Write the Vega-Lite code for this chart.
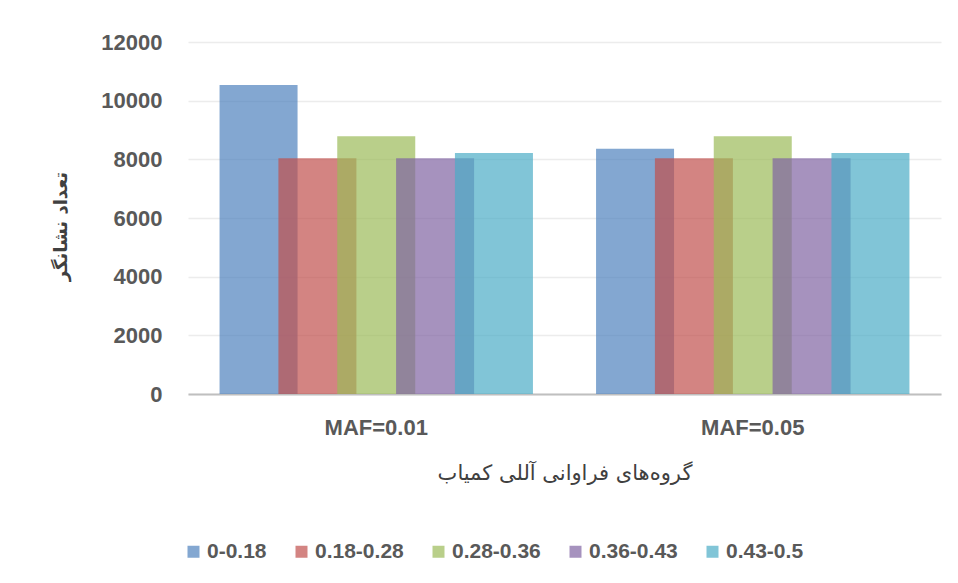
{
  "$schema": "https://vega.github.io/schema/vega-lite/v6.json",
  "width": 753,
  "height": 352,
  "autosize": {"type": "none"},
  "padding": {"left": 188, "top": 42, "right": 17, "bottom": 189},
  "background": "white",
  "title": {
    "text": "ج",
    "anchor": "end",
    "frame": "group",
    "font": "DejaVu Sans",
    "fontSize": 30,
    "fontWeight": "normal",
    "color": "#000000",
    "baseline": "alphabetic",
    "offset": 40,
    "dx": -28
  },
  "data": {
    "values": [
      {"maf": "MAF=0.01", "grp": "0-0.18", "count": 10530},
      {"maf": "MAF=0.01", "grp": "0.18-0.28", "count": 8040},
      {"maf": "MAF=0.01", "grp": "0.28-0.36", "count": 8790},
      {"maf": "MAF=0.01", "grp": "0.36-0.43", "count": 8040},
      {"maf": "MAF=0.01", "grp": "0.43-0.5", "count": 8220},
      {"maf": "MAF=0.05", "grp": "0-0.18", "count": 8360},
      {"maf": "MAF=0.05", "grp": "0.18-0.28", "count": 8040},
      {"maf": "MAF=0.05", "grp": "0.28-0.36", "count": 8790},
      {"maf": "MAF=0.05", "grp": "0.36-0.43", "count": 8040},
      {"maf": "MAF=0.05", "grp": "0.43-0.5", "count": 8220}
    ]
  },
  "mark": {"type": "bar", "width": 78, "opacity": 0.7},
  "encoding": {
    "x": {
      "field": "maf",
      "type": "nominal",
      "scale": {"paddingInner": 0, "paddingOuter": 0},
      "axis": {
        "title": "گروه‌های فراوانی آللی کمیاب",
        "labelAngle": 0,
        "labelFont": "Liberation Sans",
        "labelFontWeight": "bold",
        "labelFontSize": 22,
        "labelColor": "#595959",
        "labelPadding": 23,
        "ticks": false,
        "tickSize": 0,
        "domainColor": "#bfbfbf",
        "domainWidth": 2,
        "titleFont": "DejaVu Sans",
        "titleFontSize": 21,
        "titleFontWeight": "normal",
        "titleColor": "#404040",
        "titleBaseline": "alphabetic",
        "titleY": 85
      }
    },
    "xOffset": {
      "field": "grp",
      "type": "nominal",
      "sort": ["0-0.18", "0.18-0.28", "0.28-0.36", "0.36-0.43", "0.43-0.5"],
      "scale": {"paddingInner": 0, "paddingOuter": 0.699}
    },
    "y": {
      "field": "count",
      "type": "quantitative",
      "scale": {"domain": [0, 12000], "nice": false},
      "axis": {
        "title": "تعداد نشانگر",
        "values": [0, 2000, 4000, 6000, 8000, 10000, 12000],
        "format": "d",
        "domain": false,
        "ticks": false,
        "tickSize": 0,
        "labelPadding": 26,
        "labelFont": "Liberation Sans",
        "labelFontWeight": "bold",
        "labelFontSize": 22,
        "labelColor": "#595959",
        "gridColor": "#ececec",
        "gridWidth": 1.5,
        "titleFont": "DejaVu Sans",
        "titleFontSize": 18,
        "titleFontWeight": "bold",
        "titleColor": "#404040",
        "titleAngle": -90,
        "titleAlign": "center",
        "titleBaseline": "middle",
        "titleX": -127,
        "titleY": 184
      }
    },
    "color": {
      "field": "grp",
      "type": "nominal",
      "sort": ["0-0.18", "0.18-0.28", "0.28-0.36", "0.36-0.43", "0.43-0.5"],
      "scale": {
        "domain": ["0-0.18", "0.18-0.28", "0.28-0.36", "0.36-0.43", "0.43-0.5"],
        "range": ["#4F81BD", "#C0504D", "#9BBB59", "#8064A2", "#4BACC6"]
      },
      "legend": {
        "title": null,
        "orient": "none",
        "direction": "horizontal",
        "legendX": -5,
        "legendY": 499,
        "symbolType": "square",
        "symbolSize": 144,
        "symbolStrokeWidth": 0,
        "symbolOpacity": 0.7,
        "labelFont": "Liberation Sans",
        "labelFontWeight": "bold",
        "labelFontSize": 21,
        "labelColor": "#595959",
        "labelOffset": 3,
        "columnPadding": 24
      }
    }
  },
  "config": {
    "view": {"stroke": null}
  }
}
